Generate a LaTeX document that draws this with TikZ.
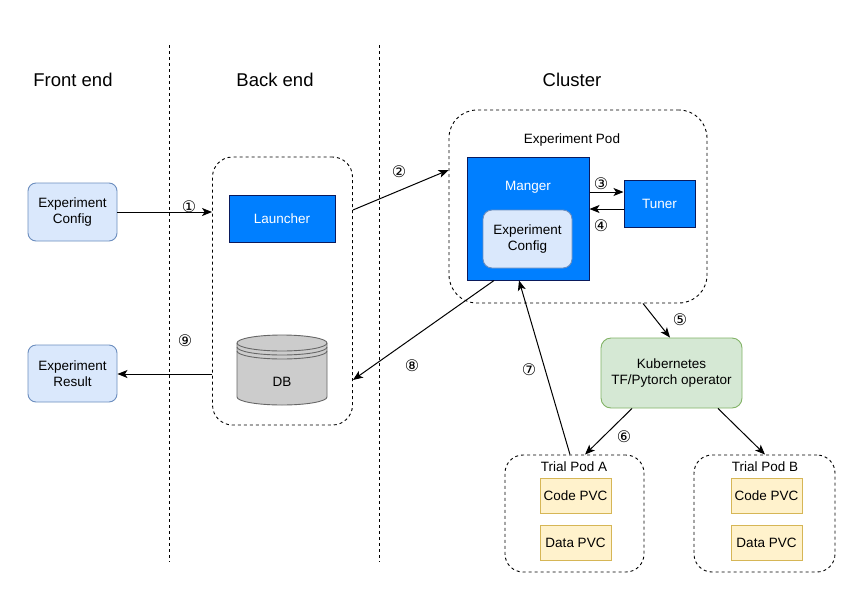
\documentclass[tikz,border=0pt]{standalone}
\usepackage{fontspec}
\setmainfont{Liberation Sans}
\newfontfamily\cfont{DejaVu Sans}
\usetikzlibrary{arrows.meta,calc}
\definecolor{bluefill}{HTML}{DAE8FC}
\definecolor{bluedraw}{HTML}{6C8EBF}
\definecolor{solidblue}{HTML}{007FFF}
\definecolor{solidbluedraw}{HTML}{0A1A5C}
\definecolor{greenfill}{HTML}{D5E8D4}
\definecolor{greendraw}{HTML}{82B366}
\definecolor{yellowfill}{HTML}{FFF2CC}
\definecolor{yellowdraw}{HTML}{D6B656}
\definecolor{dbfill}{HTML}{CCCCCC}
\definecolor{dbdraw}{HTML}{666666}
\begin{document}
\begin{tikzpicture}[x=1pt,y=-1pt,
  txt/.style={font=\fontsize{13.5}{16}\selectfont,text=black,align=center},
  title/.style={font=\fontsize{18.5}{22}\selectfont,text=black},
  num/.style={font=\cfont\fontsize{16}{18}\selectfont,text=black},
  lightbox/.style={txt,draw=bluedraw,fill=bluefill,rounded corners=8,line width=0.9pt,inner sep=0},
  solidbox/.style={txt,text=white,draw=solidbluedraw,fill=solidblue,line width=1pt,inner sep=0},
  greenbox/.style={txt,draw=greendraw,fill=greenfill,rounded corners=10,line width=0.9pt,inner sep=0},
  pvcbox/.style={txt,draw=yellowdraw,fill=yellowfill,line width=0.9pt,inner sep=0,minimum width=71,minimum height=35},
  group/.style={draw=black,dash pattern=on 3pt off 3pt,line width=0.9pt,inner sep=0},
  divider/.style={draw=black,dash pattern=on 3pt off 3pt,line width=0.9pt},
  conn/.style={draw=black,line width=1pt,-{Stealth[length=10pt,width=8pt,inset=2.5pt]}}
]
\useasboundingbox (0,0) rectangle (864,600);
\fill[white] (0,0) rectangle (864,600);

% dividers
\coordinate (d1t) at (169,45); \coordinate (d1b) at (169,562);
\coordinate (d2t) at (379,45); \coordinate (d2b) at (379,562);
\draw[divider] (d1t) -- (d1b);
\draw[divider] (d2t) -- (d2b);

% titles
\node[title] (tfe) at (73,80) {Front end};
\node[title] (tbe) at (275,80) {Back end};
\node[title] (tcl) at (572,80) {Cluster};

% front end
\node[lightbox,minimum width=89,minimum height=58] (ec) at (72.5,212) {Experiment\\Config};
\node[lightbox,minimum width=89,minimum height=57] (er) at (72.5,373.5) {Experiment\\Result};

% back end
\node[group,rounded corners=20,minimum width=140,minimum height=268] (bk) at (282.5,291) {};
\node[solidbox,minimum width=106,minimum height=47] (la) at (282,218.5) {Launcher};

% DB cylinder
\begin{scope}[draw=dbdraw,line width=0.9pt]
  \filldraw[fill=dbfill] (237,343) -- (237,397) arc[start angle=180,end angle=0,x radius=45,y radius=8] -- (327,343) arc[start angle=0,end angle=-180,x radius=45,y radius=8] -- cycle;
  \draw (237,343) arc[start angle=180,end angle=0,x radius=45,y radius=8];
  \draw (237,347) arc[start angle=180,end angle=0,x radius=45,y radius=8];
  \draw (237,351) arc[start angle=180,end angle=0,x radius=45,y radius=8];
\end{scope}
\node[txt] (db) at (282,382) {DB};

% cluster
\node[group,rounded corners=28,minimum width=258,minimum height=193] (pod) at (578,206.5) {};
\node[txt] (podl) at (572,140) {Experiment Pod};
\node[solidbox,minimum width=122,minimum height=123] (man) at (528,218.5) {};
\node[txt,text=white] (manl) at (528,187) {Manger};
\node[lightbox,minimum width=89,minimum height=58,rounded corners=9] (ic) at (527.5,239) {Experiment\\Config};
\node[solidbox,minimum width=71,minimum height=47] (tun) at (659.5,203.5) {Tuner};

\node[greenbox,minimum width=141,minimum height=70] (k8s) at (671.5,373) {Kubernetes\\TF/Pytorch operator};

\node[group,rounded corners=18,minimum width=139,minimum height=117] (ta) at (574.5,513.5) {};
\node[txt] (tal) at (574,467) {Trial Pod A};
\node[pvcbox] (ca) at (575.5,495.5) {Code PVC};
\node[pvcbox] (da) at (575.5,542.5) {Data PVC};

\node[group,rounded corners=18,minimum width=141,minimum height=117] (tb) at (764.5,513.5) {};
\node[txt] (tbl) at (765,467) {Trial Pod B};
\node[pvcbox] (cb) at (766.5,495.5) {Code PVC};
\node[pvcbox] (db2) at (766.5,542.5) {Data PVC};

% connectors
\draw[conn] (ec.east) -- (ec.east -| bk.west);
\draw[conn] (bk.east |- 0,210) -- (pod.west |- 0,170);
\draw[conn] (man.east |- 0,192) -- (tun.west |- 0,192);
\draw[conn] (tun.west |- 0,209) -- (man.east |- 0,209);
\draw[conn] (643,0 |- pod.south) -- (670,0 |- k8s.north);
\draw[conn] (632,0 |- k8s.south) -- (585,0 |- ta.north);
\draw[conn] (718,0 |- k8s.south) -- (765,0 |- tb.north);
\draw[conn] (570,0 |- ta.north) -- (519,0 |- man.south);
\draw[conn] (494,0 |- man.south) -- (bk.east |- 0,380);
\draw[conn] (bk.west |- 0,374) -- (er.east |- 0,374);

% step numbers
\node[num] (n1) at (189,207) {①};
\node[num] (n2) at (399,172) {②};
\node[num] (n3) at (601,184) {③};
\node[num] (n4) at (601,226) {④};
\node[num] (n5) at (680,320) {⑤};
\node[num] (n6) at (624,437) {⑥};
\node[num] (n7) at (529,370) {⑦};
\node[num] (n8) at (412,366) {⑧};
\node[num] (n9) at (185,341) {⑨};
\end{tikzpicture}
\end{document}
